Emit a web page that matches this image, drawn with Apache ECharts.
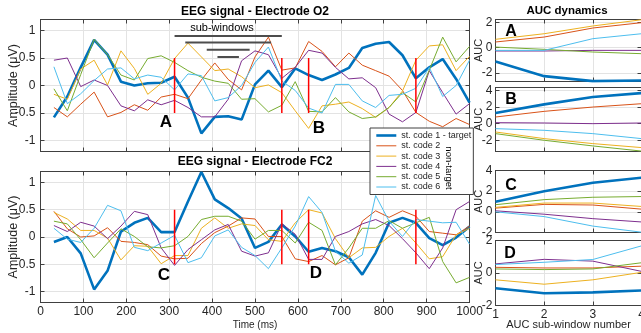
<!DOCTYPE html>
<html><head><meta charset="utf-8">
<script src="https://cdn.jsdelivr.net/npm/echarts@6/dist/echarts.min.js"></script>
<style>html,body{margin:0;padding:0;background:#fff}#c{width:641px;height:333px}</style>
</head><body><div id="c"></div>
<script>
// ---------------- data ----------------
const seriesNames = ['st. code 1 - target','st. code 2','st. code 3','st. code 4','st. code 5','st. code 6'];
const timeMs = [31.25,62.5,93.75,125,156.25,187.5,218.75,250,281.25,312.5,343.75,375,406.25,437.5,468.75,500,
  531.25,562.5,593.75,625,656.25,687.5,718.75,750,781.25,812.5,843.75,875,906.25,937.5,968.75,1000];
// Electrode O2
const o2Code1 = [-0.58,-0.2,0.33,0.83,0.56,0.07,0.0,0.04,0.05,0.16,-0.22,-0.87,-0.57,-0.56,-0.62,0.02,0.27,-0.03,0.31,0.19,0.1,0.2,0.32,0.68,0.76,0.79,0.55,0.13,0.33,0.48,0.12,-0.31];
const o2Code2 = [-0.4,-0.57,-0.34,-0.12,-0.57,-0.49,-0.35,-0.45,-0.21,-0.16,-0.24,0.1,0.41,0.11,-0.08,0.52,0.88,0.28,0.32,0.8,0.62,0.34,0.59,0.37,0.27,0.17,-0.09,-0.49,-0.65,-0.75,-0.6,-0.71];
const o2Code3 = [-0.16,-0.25,0.3,0.46,0.01,0.63,0.31,-0.16,0.04,0.49,0.77,0.52,0.27,0.3,0.16,-0.04,0.01,-0.13,-0.46,-0.78,-0.37,-0.34,-0.3,-0.42,-0.58,-0.4,-0.1,0.46,0.72,0.74,0.27,0.53];
const o2Code4 = [0.46,0.5,-0.02,0.1,0.0,-0.37,-0.46,-0.26,-0.35,-0.27,-0.4,-0.57,-0.57,-0.25,0.45,0.63,0.56,0.13,0.33,0.64,0.59,0.33,0.12,0.14,-0.04,-0.52,-0.66,-0.49,0.27,-0.13,-0.52,-0.33];
const o2Code5 = [-0.06,-0.46,0.2,0.84,0.56,0.19,0.1,0.49,0.54,0.42,0.27,0.15,0.08,0.04,-0.25,-0.24,-0.48,-0.36,0.07,-0.47,-0.48,-0.22,-0.48,-0.6,-0.57,-0.4,-0.13,-0.3,0.28,0.88,0.43,0.71];
const o2Code6 = [0.34,-0.33,-0.15,0.09,0.3,0.32,0.12,0.19,0.15,-0.08,0.21,0.18,-0.28,-0.22,0.0,0.42,0.7,0.08,-0.09,-0.41,-0.5,0.02,0.02,-0.28,-0.4,-0.18,-0.16,-0.05,0.33,-0.2,0.0,0.46];
// Electrode FC2
const fc2Code1 = [-0.09,0.0,-0.3,-0.96,-0.62,0.1,0.26,0.35,0.09,0.09,0.65,1.19,0.69,0.53,0.34,-0.2,-0.09,0.23,0.01,-0.27,-0.2,-0.26,-0.37,-0.69,-0.29,0.26,0.35,0.26,-0.02,-0.15,-0.01,0.19];
const fc2Code2 = [0.47,0.15,0.0,0.02,0.17,-0.08,-0.1,-0.14,-0.35,-0.4,-0.39,-0.12,0.08,0.2,0.35,0.33,0.01,0.01,-0.4,-0.45,-0.34,-0.51,-0.38,0.29,0.48,0.36,0.48,0.38,0.1,0.07,0.04,0.2];
const fc2Code3 = [0.45,0.33,0.12,0.12,-0.02,-0.42,-0.16,-0.17,-0.49,-0.34,-0.34,0.16,0.35,0.16,0.24,0.21,-0.05,-0.08,0.26,0.5,0.44,-0.03,-0.38,-0.2,-0.19,0.01,0.16,-0.11,-0.4,-0.36,0.04,0.16];
const fc2Code4 = [0.21,0.1,0.27,0.2,-0.03,0.2,0.47,0.41,-0.2,-0.52,-0.23,-0.05,0.13,0.23,-0.26,-0.35,-0.29,0.24,0.05,-0.41,-0.41,0.01,0.1,0.24,0.32,0.21,-0.03,-0.29,-0.58,-0.2,0.5,0.65];
const fc2Code5 = [0.29,0.24,-0.05,-0.38,-0.11,0.15,0.01,-0.18,-0.2,-0.16,0.01,0.32,0.38,0.38,0.29,-0.04,0.12,0.12,-0.11,0.27,0.12,-0.51,-0.2,0.16,0.16,0.3,0.16,0.26,0.36,-0.45,-0.84,-0.74];
const fc2Code6 = [0.16,-0.04,-0.1,0.16,0.58,0.48,-0.19,-0.25,-0.11,0.03,-0.47,-0.38,0.02,0.13,-0.19,-0.34,-0.58,-0.2,0.2,0.74,0.45,-0.26,-0.48,-0.33,0.76,0.29,0.01,0.32,0.29,0.26,0.27,-0.13];
// AUC dynamics (sub-window 1..4)
const aucWindow = [1,2,3,4];
const aucA = [[-1.08,-2.24,-2.63,-2.58],[0.45,0.84,1.55,1.97],[0.66,1.1,1.71,2.2],[-0.26,-0.26,-0.21,-0.21],[0.05,-0.13,-0.34,-0.47],[-0.21,-0.21,0.71,1.1]];
const aucB = [[1.28,2.32,3.2,3.68],[0.8,1.48,2.0,2.4],[-1.0,-1.8,-2.4,-2.88],[0.12,0.08,0.0,0.08],[-1.2,-2.0,-2.68,-3.3],[-0.6,-0.8,-1.2,-1.8]];
const aucC = [[0.98,2.0,2.82,3.31],[0.36,0.72,0.66,0.26],[0.43,0.85,0.85,0.52],[0.1,-0.23,-0.66,-0.98],[0.69,1.18,1.41,1.48],[0.0,-0.46,-1.38,-1.97]];
const aucD = [[-0.94,-1.25,-1.19,-1.08],[0.35,0.31,0.31,0.42],[-0.42,-0.69,-0.42,0.04],[0.56,0.84,0.73,0.1],[0.25,0.21,0.25,0.63],[0.52,0.66,0.83,1.67]];
// window edges (ms) and sub-windows
const windowEdges = [312.5, 562.5, 625, 875];
const subWinStart = [312.5, 337.5, 387.5, 412.5];
const subWinEnd = [562.5, 537.5, 487.5, 462.5];
// tick labels
const ampTicks = [-1,-0.5,0,0.5,1];
const timeTicksInterval = 100;
const aucTicksA = [-2,0,2];
const aucTicksB = [-2,0,2,4];
const aucTicksC = [-2,0,2,4];
const aucTicksD = [-2,0,2];

// ---------------- styles ----------------
const colors = ['#0072BD','#D95319','#EDB120','#7E2F8E','#77AC30','#4DBEEE'];
const widths = [2.6,1,1,1,1,1];
const FONT = '"Liberation Sans", Arial, Helvetica, sans-serif';
const AX = '#404040', TXT = '#262626', GRIDC = '#e3e3e3';
const subWinLevel = [0.9, 0.78, 0.65, 0.52];

const chart = echarts.init(document.getElementById('c'), null, {renderer:'canvas'});

const grids = [
  {left:40.5, top:19.5, width:429, height:132},
  {left:40.5, top:171.5, width:429, height:131},
  {left:495.5, top:19.5, width:146, height:62},
  {left:495.5, top:87.5, width:146, height:64},
  {left:495.5, top:170.5, width:146, height:62},
  {left:495.5, top:240.5, width:146, height:65}
].map(g => Object.assign({show:false, containLabel:false, outerBoundsMode:'none'}, g));

const plainFmt = v => String(v);

function xAx(gi, min, max, interval, pos, showLabels, name, nameGap, nameSize){
  const main = pos === 'bottom';
  return {type:'value', gridIndex:gi, position:pos, min, max, interval,
    axisLine:{show:true, onZero:false, lineStyle:{color:AX, width:1}},
    axisTick:{show:true, inside:true, length:4, lineStyle:{color:AX}},
    axisLabel:{show:showLabels, fontSize:12, color:TXT, fontFamily:FONT, margin:3, formatter:plainFmt, showMinLabel:true, showMaxLabel:true},
    splitLine:{show:main, lineStyle:{color:GRIDC, width:1}},
    name: name || '', nameLocation:'middle', nameGap: nameGap || 0, nameMoveOverlap:false,
    nameTextStyle:{fontSize:nameSize || 10, color:TXT, fontFamily:FONT}
  };
}
function yAx(gi, min, max, ticks, pos, name, nameGap, nameSize, labelSize, margin){
  const main = pos === 'left';
  return {type:'value', gridIndex:gi, position:pos, min, max,
    axisLine:{show:true, onZero:false, lineStyle:{color:AX, width:1}},
    axisTick:{show:true, inside:true, length:4, lineStyle:{color:AX}, customValues:ticks},
    axisLabel:{show:main, fontSize:labelSize, color:TXT, fontFamily:FONT, margin:margin, customValues:ticks, formatter:plainFmt},
    splitLine:{show:main, lineStyle:{color:GRIDC, width:1}},
    name: main ? name : '', nameLocation:'middle', nameGap, nameRotate:90, nameMoveOverlap:false,
    nameTextStyle:{fontSize:nameSize, color:TXT, fontFamily:FONT}
  };
}

const xSpecs = [
  [0, 0, 1000, timeTicksInterval, false, '', 0, 10],
  [1, 0, 1000, timeTicksInterval, true, 'Time (ms)', 18, 10],
  [2, 1, 4, 1, false, '', 0, 10],
  [3, 1, 4, 1, false, '', 0, 10],
  [4, 1, 4, 1, false, '', 0, 10],
  [5, 1, 4, 1, true, 'AUC sub-window number', 14, 11]
];
const ySpecs = [
  [0, -1.2, 1.2, ampTicks, 'Amplitude (\u03bcV)', 20, 12.5, 12, 5],
  [1, -1.2, 1.2, ampTicks, 'Amplitude (\u03bcV)', 20, 12.5, 12, 5],
  [2, -2.66, 2.22, aucTicksA, 'AUC', 11, 11, 12, 3],
  [3, -3.35, 4.35, aucTicksB, 'AUC', 11, 11, 12, 3],
  [4, -2, 4, aucTicksC, 'AUC', 11, 11, 12, 3],
  [5, -2, 2, aucTicksD, 'AUC', 11, 11, 12, 3]
];
const xAxes = xSpecs.map(s => xAx(s[0], s[1], s[2], s[3], 'bottom', s[4], s[5], s[6], s[7]))
  .concat(xSpecs.map(s => xAx(s[0], s[1], s[2], s[3], 'top', false)));
const yAxes = ySpecs.map(s => yAx(s[0], s[1], s[2], s[3], 'left', s[4], s[5], s[6], s[7], s[8]))
  .concat(ySpecs.map(s => yAx(s[0], s[1], s[2], s[3], 'right', '', 0, 11, 12, 3)));

const series = [];
function addLines(gi, xs, arrs){
  arrs.forEach((vals, s) => {
    series.push({type:'line', name:seriesNames[s], xAxisIndex:gi, yAxisIndex:gi,
      data: xs.map((x,i)=>[x, vals[i]]), symbol:'none', showSymbol:false, silent:true,
      lineStyle:{color:colors[s], width:widths[s]}, itemStyle:{color:colors[s]},
      emphasis:{disabled:true}, animation:false, z:2});
  });
}
addLines(0, timeMs, [o2Code1,o2Code2,o2Code3,o2Code4,o2Code5,o2Code6]);
addLines(1, timeMs, [fc2Code1,fc2Code2,fc2Code3,fc2Code4,fc2Code5,fc2Code6]);
addLines(2, aucWindow, aucA);
addLines(3, aucWindow, aucB);
addLines(4, aucWindow, aucC);
addLines(5, aucWindow, aucD);

// red window edge markers
[0,1].forEach(gi => windowEdges.forEach(e => {
  series.push({type:'line', name:'edge', xAxisIndex:gi, yAxisIndex:gi, data:[[e,0.5],[e,-0.5]],
    symbol:'none', silent:true, lineStyle:{color:'#ff0000', width:1.5}, animation:false, z:3});
}));
// sub-window bars
subWinStart.forEach((s,i) => {
  series.push({type:'line', name:'subwin', xAxisIndex:0, yAxisIndex:0,
    data:[[s, subWinLevel[i]],[subWinEnd[i], subWinLevel[i]]],
    symbol:'none', silent:true, lineStyle:{color:'#4d4d4d', width:2}, animation:false, z:3});
});

function txt(x, y, text, size, bold, rot){
  return {type:'text', x, y, rotation: rot || 0, z:100,
    style:{text, fontSize:size, fontWeight: bold ? 'bold' : 'normal', fontFamily:FONT, fill:'#000',
      align:'center', verticalAlign:'middle', textAlign:'center', textVerticalAlign:'middle'}};
}
const graphics = [
  txt(255, 12, 'EEG signal - Electrode O2', 12, true),
  txt(255, 162, 'EEG signal - Electrode FC2', 12, true),
  txt(567, 11, 'AUC dynamics', 11.5, true),
  txt(222, 28, 'sub-windows', 11, false),
  txt(166, 122, 'A', 17, true),
  txt(319, 128, 'B', 17, true),
  txt(164, 275, 'C', 17, true),
  txt(316, 273, 'D', 17, true),
  txt(511, 32, 'A', 16, true),
  txt(511, 100, 'B', 16, true),
  txt(511, 186, 'C', 16, true),
  txt(510, 254, 'D', 16, true),
  txt(449, 168, 'non-target', 9.5, false, -Math.PI/2)
];

chart.setOption({
  animation:false,
  backgroundColor:'#fff',
  grid: grids,
  xAxis: xAxes,
  yAxis: yAxes,
  series,
  legend:{
    data: seriesNames, orient:'vertical', left:370, top:128,
    itemWidth:20, itemHeight:10, itemGap:1.3,
    padding:[3, 2, 3, 5],
    backgroundColor:'#fff', borderColor:AX, borderWidth:1, borderRadius:0,
    textStyle:{fontSize:9, color:TXT, fontFamily:FONT},
    itemStyle:{opacity:0},
    lineStyle:{width:'inherit'},
    selectedMode:false, z:10
  },
  graphic: graphics
});
</script>
</body></html>
